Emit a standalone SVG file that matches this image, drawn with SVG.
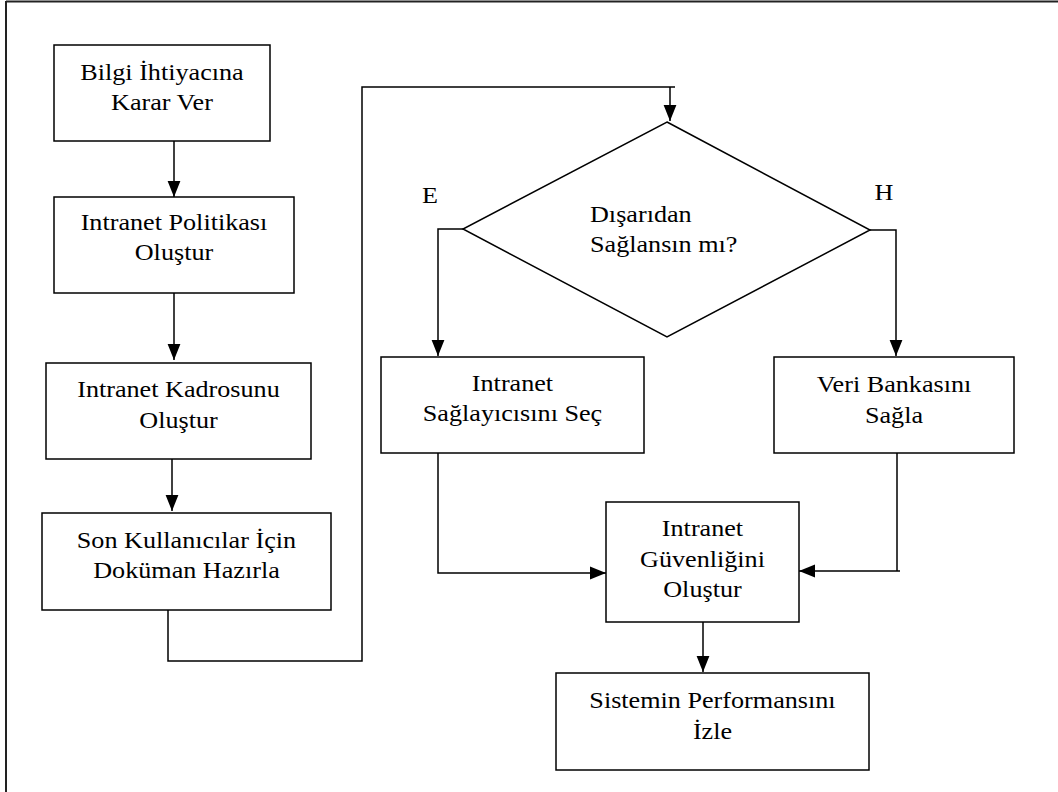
<svg xmlns="http://www.w3.org/2000/svg" width="1058" height="792" viewBox="0 0 1058 792">
<style>
.box{fill:#fff;stroke:#000;stroke-width:1.5}
.ln{fill:none;stroke:#000;stroke-width:1.5}
.t{font-family:'Liberation Serif',serif;font-size:24px;fill:#000;text-anchor:middle;transform-box:fill-box;transform-origin:center;transform:scaleX(1.09)}
.lft{text-anchor:start;transform-origin:left}
</style>
<defs>
<marker id="ah" markerUnits="userSpaceOnUse" markerWidth="16" markerHeight="20" refX="20" refY="8" viewBox="0 0 20 16" orient="auto">
<path d="M0 0 L20 8 L0 16 Z" fill="#000"/>
</marker>
</defs>
<rect width="1058" height="792" fill="#fff"/>
<g id="frame">
<line x1="6" y1="1.5" x2="1058" y2="1.5" stroke="#222" stroke-width="2"/>
<line x1="6" y1="1" x2="6" y2="792" stroke="#222" stroke-width="2"/>
</g>
<g id="connectors">
<path class="ln" d="M174 141 V197" marker-end="url(#ah)"/>
<path class="ln" d="M174 293 V360" marker-end="url(#ah)"/>
<path class="ln" d="M172 459 V511" marker-end="url(#ah)"/>
<path class="ln" d="M168 610 V661 H362 V87 H675"/>
<path class="ln" d="M670 87 V121" marker-end="url(#ah)"/>
<path class="ln" d="M463 229 H438 V356" marker-end="url(#ah)"/>
<path class="ln" d="M870 230 H896 V356" marker-end="url(#ah)"/>
<path class="ln" d="M438 453 V573 H606" marker-end="url(#ah)"/>
<path class="ln" d="M897 453 V571 M900 571 H799" marker-end="url(#ah)"/>
<path class="ln" d="M703 622 V672" marker-end="url(#ah)"/>
</g>
<g id="n1"><rect class="box" x="54" y="45" width="216" height="96"/>
<text class="t" x="162" y="80">Bilgi İhtiyacına</text><text class="t" x="162" y="110">Karar Ver</text></g>
<g id="n2"><rect class="box" x="54" y="197" width="240" height="96"/>
<text class="t" x="174" y="230">Intranet Politikası</text><text class="t" x="174" y="260">Oluştur</text></g>
<g id="n3"><rect class="box" x="46" y="363" width="265" height="96"/>
<text class="t" x="178.5" y="397">Intranet Kadrosunu</text><text class="t" x="178.5" y="428">Oluştur</text></g>
<g id="n4"><rect class="box" x="42" y="513" width="289" height="97"/>
<text class="t" x="186.5" y="548">Son Kullanıcılar İçin</text><text class="t" x="186.5" y="578">Doküman Hazırla</text></g>
<g id="decision"><polygon class="box" points="667,122 870,230 667,337 463,229"/>
<text class="t lft" x="590" y="222">Dışarıdan</text><text class="t lft" x="590" y="252">Sağlansın mı?</text></g>
<g id="labelE"><text class="t" x="430" y="203">E</text></g>
<g id="labelH"><text class="t" x="884" y="200">H</text></g>
<g id="n5"><rect class="box" x="381" y="357" width="263" height="96"/>
<text class="t" x="512.5" y="391">Intranet</text><text class="t" x="512.5" y="421">Sağlayıcısını Seç</text></g>
<g id="n6"><rect class="box" x="774" y="357" width="240" height="96"/>
<text class="t" x="894" y="392">Veri Bankasını</text><text class="t" x="894" y="423">Sağla</text></g>
<g id="n7"><rect class="box" x="606" y="502" width="193" height="120"/>
<text class="t" x="702.5" y="536">Intranet</text><text class="t" x="702.5" y="567">Güvenliğini</text><text class="t" x="702.5" y="597">Oluştur</text></g>
<g id="n8"><rect class="box" x="556" y="673" width="313" height="97"/>
<text class="t" x="712.5" y="708">Sistemin Performansını</text><text class="t" x="712.5" y="739">İzle</text></g>
</svg>
